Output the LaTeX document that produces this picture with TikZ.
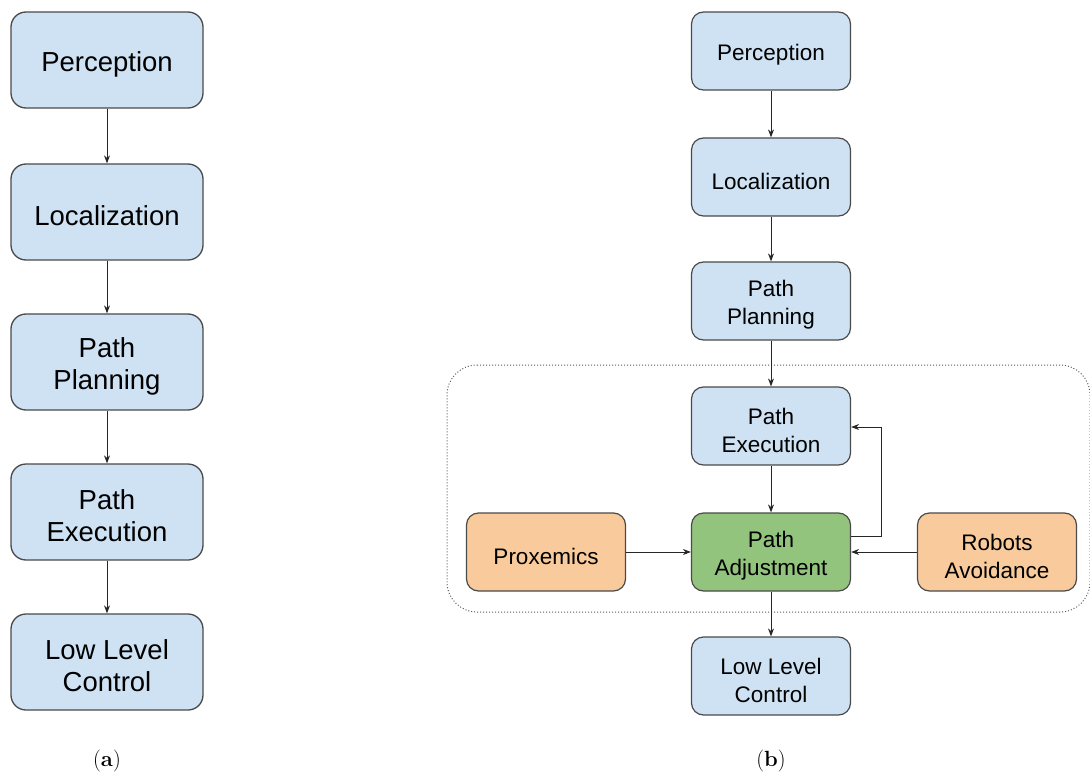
\documentclass[tikz,border=0pt]{standalone}
\usepackage{fontspec}
\setsansfont{Liberation Sans}
\usetikzlibrary{arrows.meta}
\definecolor{bluebox}{HTML}{CFE2F3}
\definecolor{orangebox}{HTML}{F9CB9C}
\definecolor{greenbox}{HTML}{93C47D}
\definecolor{edge}{HTML}{4A4A4A}
\tikzset{
  bigbox/.style={draw=edge, line width=1.3pt, fill=bluebox, rounded corners=15pt,
    minimum width=192pt, minimum height=96pt, inner sep=0pt},
  bigtxt/.style={align=center, inner sep=0pt, font=\sffamily\fontsize{27.5}{32}\selectfont},
  smallbox/.style={draw=edge, line width=1.2pt, fill=bluebox, rounded corners=12pt,
    minimum width=159pt, minimum height=78pt, inner sep=0pt},
  smalltxt/.style={align=center, inner sep=0pt, font=\sffamily\fontsize{22.5}{28}\selectfont},
  arr/.style={draw=black!85, line width=1pt, -{Stealth[length=8pt,width=6pt]}},
  captext/.style={font=\fontsize{22}{25}\selectfont}
}
\newcommand\BigBox[3]{\node[bigbox] (#1) at (#2) {};
  \node[bigtxt] (#1t) at ([yshift=-4pt]#1.center) {#3};}
\newcommand\SmallBox[4][]{\node[smallbox,#1] (#2) at (#3) {};
  \node[smalltxt] (#2t) at ([yshift=-4pt]#2.center) {#4};}
\begin{document}
\begin{tikzpicture}[x=1pt,y=-1pt]
\useasboundingbox (0,0) rectangle (1090,773);
% (a)
\BigBox{pa}{107,60}{Perception}
\BigBox{la}{107,212}{Localization}
\BigBox{ppa}{107,362}{Path\\Planning}
\BigBox{pea}{107,512}{Path\\Execution}
\BigBox{lla}{107,662}{Low Level\\Control}
\draw[arr] (pa) -- (la);
\draw[arr] (la) -- (ppa);
\draw[arr] (ppa) -- (pea);
\draw[arr] (pea) -- (lla);
\node[captext] (capa) at (107,761) {(\textbf{a})};
% (b)
\draw[black!65, line width=1pt, dash pattern=on 1pt off 2pt, rounded corners=30pt] (447,365) -- (1090,365) -- (1090,612) -- (447,612) -- cycle;
\SmallBox{pb}{771,51}{Perception}
\SmallBox{lb}{771,177}{Localization}
\SmallBox{ppb}{771,301}{Path\\Planning}
\SmallBox{peb}{771,426}{Path\\Execution}
\SmallBox[fill=greenbox]{adj}{771,552}{Path\\Adjustment}
\SmallBox{llb}{771,676}{Low Level\\Control}
\SmallBox[fill=orangebox]{prox}{546,552}{Proxemics}
\SmallBox[fill=orangebox]{rob}{997,552}{Robots\\Avoidance}
\draw[arr] (pb) -- (lb);
\draw[arr] (lb) -- (ppb);
\draw[arr] (ppb) -- (peb);
\draw[arr] (peb) -- (adj);
\draw[arr] (adj) -- (llb);
\draw[arr] (prox) -- (adj);
\draw[arr] (rob) -- (adj);
\coordinate (c1) at (881,536);
\coordinate (c2) at (881,427);
\draw[arr] ([yshift=16pt]adj.east) -- (c1) -- (c2) -- (peb.east |- c2);
\node[captext] (capb) at (771,761) {(\textbf{b})};
\end{tikzpicture}
\end{document}
